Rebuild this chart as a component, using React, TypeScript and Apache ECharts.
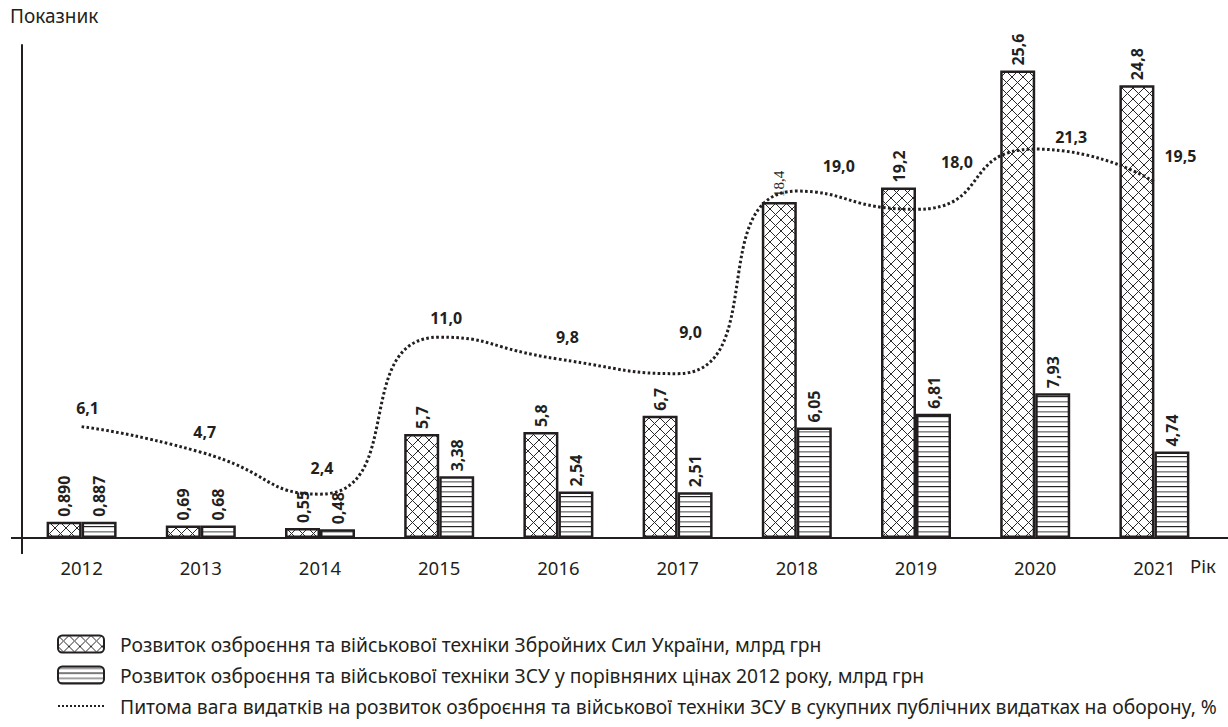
import React, { useEffect, useRef } from "react";
import * as echarts from "echarts";

const years = ["2012", "2013", "2014", "2015", "2016", "2017", "2018", "2019", "2020", "2021"];
const armsLabels = ["0,890", "0,69", "0,55", "5,7", "5,8", "6,7", "18,4", "19,2", "25,6", "24,8"];
const armsRealLabels = ["0,887", "0,68", "0,48", "3,38", "2,54", "2,51", "6,05", "6,81", "7,93", "4,74"];
const shareLabels = ["6,1", "4,7", "2,4", "11,0", "9,8", "9,0", "19,0", "18,0", "21,3", "19,5"];
const seriesNames = [
  "Розвиток озброєння та військової техніки Збройних Сил України, млрд грн",
  "Розвиток озброєння та військової техніки ЗСУ у порівняних цінах 2012 року, млрд грн",
  "Питома вага видатків на розвиток озброєння та військової техніки ЗСУ в сукупних публічних видатках на оборону, %",
];
const yTitle = "Показник";
const xTitle = "Рік";

const toNum = (s: string) => parseFloat(s.replace(",", "."));
const armsValues = armsLabels.map(toNum);
const armsRealValues = armsRealLabels.map(toNum);
const shareValues = shareLabels.map(toNum);

// label placement tweaks (pixels)
const shareLabelOffsets: number[][] = [
  [6, -19], [4, -20], [2, -26], [7, -19], [9, -22], [13, -42], [42, -25], [41, -47], [36, -12], [26, -26],
];
const serifLabelIndex = 6;

const INK = "#231f20";
const FONT = "'Noto Sans', sans-serif";

function makeCross() {
  const c = document.createElement("canvas");
  c.width = 11; c.height = 11;
  const g = c.getContext("2d")!;
  g.fillStyle = "#fff"; g.fillRect(0, 0, 11, 11);
  g.strokeStyle = "#2a2a2a"; g.lineWidth = 1;
  g.beginPath();
  g.moveTo(-1, -1); g.lineTo(12, 12);
  g.moveTo(12, -1); g.lineTo(-1, 12);
  g.stroke();
  return c;
}
function makeStripes() {
  const c = document.createElement("canvas");
  c.width = 10; c.height = 10;
  const g = c.getContext("2d")!;
  g.fillStyle = "#fff"; g.fillRect(0, 0, 10, 10);
  g.fillStyle = "#8a8a8a"; g.fillRect(0, 1, 10, 1.6);
  g.fillStyle = "#222"; g.fillRect(0, 6, 10, 1.2);
  return c;
}

export default function App() {
  const ref = useRef<HTMLDivElement>(null);
  useEffect(() => {
    if (!ref.current) return;
    const chart = echarts.init(ref.current, null, { renderer: "svg" });
    const cross = { image: makeCross(), repeat: "repeat", imageWidth: 11, imageHeight: 11 } as any;
    const stripes = { image: makeStripes(), repeat: "repeat", imageWidth: 10, imageHeight: 10 } as any;
    const barLabel = {
      show: true,
      position: "top",
      rotate: 90,
      align: "left",
      verticalAlign: "middle",
      distance: 5,
      fontSize: 16,
      fontWeight: "bold",
      color: INK,
      fontFamily: FONT,
    };
    chart.setOption({
      animation: false,
      textStyle: { fontFamily: FONT, color: INK },
      grid: { left: 22, right: 14, top: 45, bottom: 189 },
      xAxis: {
        type: "category",
        data: years,
        axisLine: { show: true, lineStyle: { color: INK, width: 2 } },
        axisTick: { show: false },
        axisLabel: { fontSize: 18.5, color: INK, margin: 20, fontFamily: FONT },
      },
      yAxis: {
        type: "value",
        min: 0,
        max: 27,
        axisLine: { show: true, lineStyle: { color: INK, width: 2 } },
        axisTick: { show: false },
        axisLabel: { show: false },
        splitLine: { show: false },
      },
      legend: {
        orient: "vertical",
        left: 57,
        top: 632,
        padding: 0,
        itemWidth: 46,
        itemHeight: 17,
        itemGap: 7,
        data: seriesNames,
        textStyle: { fontSize: 19.3, lineHeight: 22, color: INK, fontFamily: FONT, padding: [2, 0, 0, 11] },
        lineStyle: { width: 2, type: [2, 2] },
      },
      series: [
        {
          name: seriesNames[0],
          type: "bar",
          barWidth: 35,
          barGap: "0%",
          data: armsValues.map((v, i) =>
            i === serifLabelIndex
              ? { value: v, label: { fontWeight: "normal", fontFamily: "'Liberation Serif', serif", fontSize: 15 } }
              : v
          ),
          itemStyle: { color: cross, borderColor: INK, borderWidth: 2.5 },
          label: { ...barLabel, formatter: (p: any) => armsLabels[p.dataIndex] },
          z: 2,
        },
        {
          name: seriesNames[1],
          type: "bar",
          barWidth: 35,
          barGap: "0%",
          data: armsRealValues,
          itemStyle: { color: stripes, borderColor: INK, borderWidth: 2.5 },
          label: { ...barLabel, formatter: (p: any) => armsRealLabels[p.dataIndex] },
          z: 2,
        },
        {
          name: seriesNames[2],
          type: "line",
          smooth: 0.6,
          symbol: "circle",
          symbolSize: 1,
          showSymbol: true,
          itemStyle: { color: "rgba(0,0,0,0)" },
          lineStyle: { color: INK, width: 3, type: [2.6, 2.4] },
          data: shareValues.map((v, i) => ({
            value: v,
            label: { offset: shareLabelOffsets[i] },
          })),
          label: {
            show: true,
            position: "inside",
            fontSize: 16,
            fontWeight: "bold",
            color: INK,
            fontFamily: FONT,
            formatter: (p: any) => shareLabels[p.dataIndex],
          },
          z: 5,
        },
      ],
      graphic: [
        { type: "text", left: 10, top: 6, style: { text: yTitle, fontSize: 19, fill: INK, fontFamily: FONT } },
        { type: "text", left: 1190, top: 556, style: { text: xTitle, fontSize: 18.5, fill: INK, fontFamily: FONT } },
        { type: "line", shape: { x1: 11, y1: 538, x2: 23, y2: 538 }, style: { stroke: INK, lineWidth: 2 } },
        { type: "line", shape: { x1: 1213, y1: 538, x2: 1228, y2: 538 }, style: { stroke: INK, lineWidth: 2 } },
        { type: "line", shape: { x1: 22, y1: 537, x2: 22, y2: 554 }, style: { stroke: INK, lineWidth: 2 } },
      ],
    });
    return () => chart.dispose();
  }, []);
  return <div ref={ref} style={{ width: 1228, height: 727, position: "absolute", left: 0, top: 0 }} />;
}
